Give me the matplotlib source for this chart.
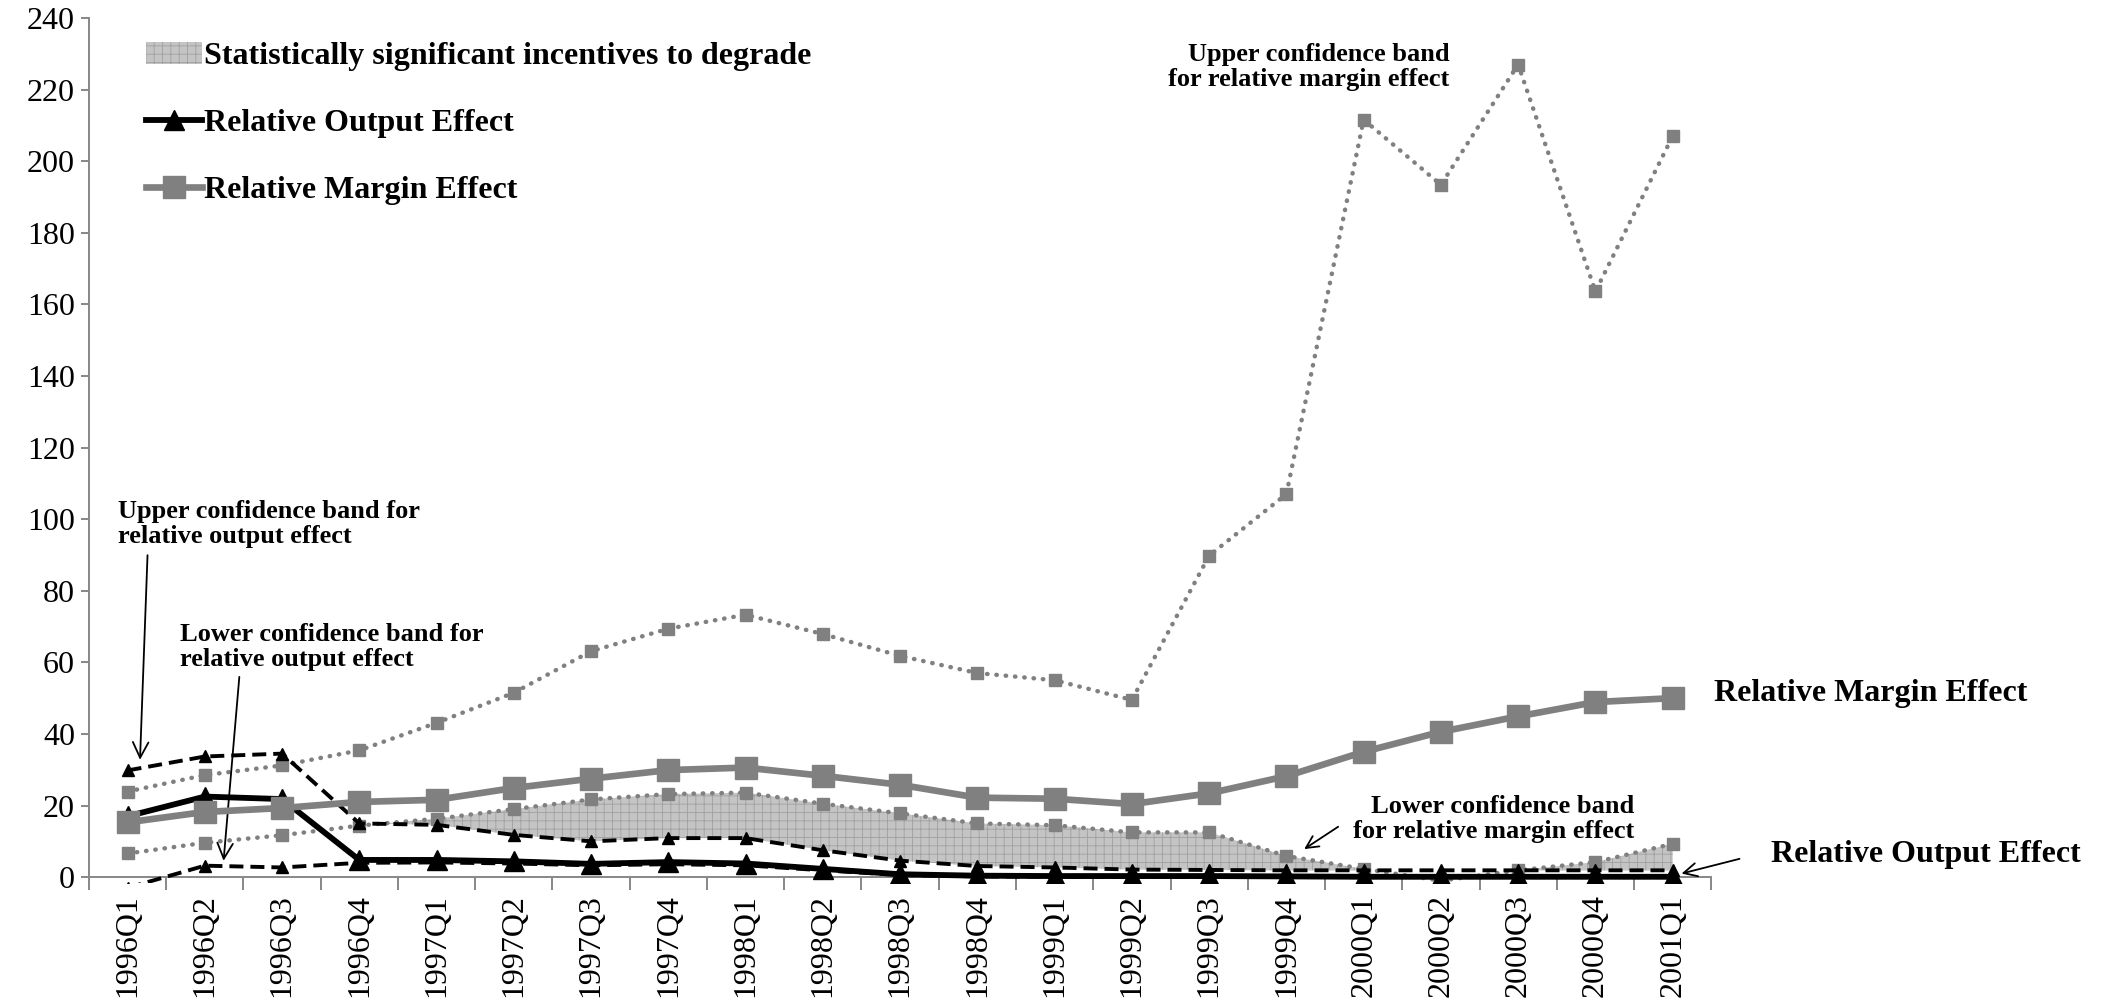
import matplotlib
matplotlib.use("Agg")
import matplotlib.pyplot as plt
from matplotlib.lines import Line2D
from matplotlib.patches import Patch
from matplotlib.transforms import Bbox, TransformedBbox
import numpy as np

quarters = ["1996Q1", "1996Q2", "1996Q3", "1996Q4", "1997Q1", "1997Q2", "1997Q3",
            "1997Q4", "1998Q1", "1998Q2", "1998Q3", "1998Q4", "1999Q1", "1999Q2",
            "1999Q3", "1999Q4", "2000Q1", "2000Q2", "2000Q3", "2000Q4", "2001Q1"]

margin_effect = [15.3, 18.2, 19.3, 21.0, 21.6, 24.9, 27.5, 29.9, 30.6, 28.3, 25.8,
                 22.2, 21.9, 20.4, 23.4, 28.2, 35.0, 40.6, 44.9, 48.9, 50.0]
margin_upper = [23.9, 28.5, 31.2, 35.4, 43.1, 51.5, 63.1, 69.4, 73.3, 67.9, 61.8,
                57.0, 55.0, 49.5, 89.8, 107.0, 211.6, 193.4, 227.0, 163.6, 207.0]
margin_lower = [6.6, 9.6, 11.7, 14.4, 16.3, 19.0, 21.7, 23.2, 23.6, 20.5, 17.8,
                15.0, 14.5, 12.5, 12.5, 5.9, 2.3, -1.0, 1.9, 4.2, 9.3]
output_effect = [17.0, 22.5, 21.8, 4.8, 4.8, 4.4, 3.7, 4.2, 3.8, 2.3, 0.8,
                 0.4, 0.3, 0.3, 0.3, 0.2, 0.1, 0.1, 0.1, 0.1, 0.1]
output_upper = [29.8, 33.7, 34.5, 15.0, 14.6, 11.8, 10.0, 10.9, 10.9, 7.5, 4.6,
                3.1, 2.7, 2.1, 2.0, 1.9, 1.9, 1.9, 1.9, 1.9, 1.9]
output_lower = [-3.0, 3.2, 2.7, 4.0, 4.1, 3.8, 3.3, 3.6, 3.3, 1.9, 0.6,
                0.2, 0.1, 0.1, 0.1, 0.1, 0.0, 0.0, 0.0, 0.0, 0.0]
y_ticks = list(range(0, 241, 20))

GRAY = "#808080"
AXGRAY = "#878787"
plt.rcParams["font.family"] = ["Liberation Serif", "DejaVu Serif"]
plt.rcParams["hatch.linewidth"] = 0.6
plt.rcParams["hatch.color"] = "#9a9a9a"

fig = plt.figure(figsize=(21.07, 9.99), dpi=100)
ax = fig.add_axes([0.0422, 0.122, 0.770, 0.860])
x = np.arange(len(quarters))

ml = np.array(margin_lower)
ou = np.array(output_upper)
ax.fill_between(x, ou, ml, where=ml > ou, interpolate=True,
                facecolor="#c4c4c4", edgecolor="#a0a0a0", hatch="++", linewidth=0, zorder=1)

lines = []
lines += ax.plot(x, margin_upper, color=GRAY, lw=3.2, linestyle=(0, (0.1, 2.0)),
                 dash_capstyle="round", marker="s", ms=8, mfc=GRAY, mec=GRAY, zorder=3)
lines += ax.plot(x, margin_lower, color=GRAY, lw=3.2, linestyle=(0, (0.1, 2.0)),
                 dash_capstyle="round", marker="s", ms=8, mfc=GRAY, mec=GRAY, zorder=3)
lines += ax.plot(x, output_upper, color="black", lw=2.8, linestyle=(0, (3.6, 1.8)),
                 marker="^", ms=9, mfc="black", mec="black", zorder=4)
lines += ax.plot(x, output_lower, color="black", lw=2.8, linestyle=(0, (3.6, 1.8)),
                 marker="^", ms=9, mfc="black", mec="black", zorder=4)
lines += ax.plot(x, output_effect, color="black", lw=4.2, marker="^", ms=15,
                 mfc="black", mec="black", zorder=5)
lines += ax.plot(x, margin_effect, color=GRAY, lw=4.8, marker="s", ms=16,
                 mfc=GRAY, mec=GRAY, zorder=6)

ax.set_xlim(-0.5, len(quarters) - 0.5)
ax.set_ylim(0, 240)
clipbox = TransformedBbox(Bbox([[-0.5, -1.6], [len(quarters) - 0.5, 245]]), ax.transData)
for ln in lines:
    ln.set_clip_box(clipbox)

for s in ["top", "right"]:
    ax.spines[s].set_visible(False)
for s in ["left", "bottom"]:
    ax.spines[s].set_color(AXGRAY)
    ax.spines[s].set_linewidth(1.4)

ax.set_yticks(y_ticks)
ax.set_yticklabels([str(v) for v in y_ticks], fontsize=23)
ax.tick_params(axis="y", length=6, width=1.4, color=AXGRAY, pad=4)
ax.set_xticks(x)
ax.set_xticklabels(quarters, rotation=90, fontsize=23)
ax.set_xticks(np.arange(-0.5, len(quarters), 1.0), minor=True)
ax.tick_params(axis="x", which="major", length=0, pad=12)
ax.tick_params(axis="x", which="minor", length=9, width=1.4, color=AXGRAY)

handles = [
    Patch(facecolor="#c4c4c4", edgecolor="#a0a0a0", hatch="++", linewidth=0),
    Line2D([], [], color="black", lw=4.2, marker="^", ms=15),
    Line2D([], [], color=GRAY, lw=4.8, marker="s", ms=16),
]
labels = ["Statistically significant incentives to degrade",
          "Relative Output Effect", "Relative Margin Effect"]
fig.legend(handles, labels, loc="upper left", bbox_to_anchor=(0.0555, 0.987),
           frameon=False, prop={"weight": "bold", "size": 23},
           handlelength=1.75, handletextpad=0.08, labelspacing=1.18)

bold = {"weight": "bold"}
ax.text(-0.12, 98.6, "Upper confidence band for\nrelative output effect",
        ha="left", va="center", fontsize=19, fontdict=bold, linespacing=1.1)
ax.annotate("", xy=(0.16, 32), xytext=(0.26, 90.7),
            arrowprops=dict(arrowstyle="->", color="black", lw=1.3, mutation_scale=28))
ax.text(0.68, 64.2, "Lower confidence band for\nrelative output effect",
        ha="left", va="center", fontsize=19, fontdict=bold, linespacing=1.1)
ax.annotate("", xy=(1.24, 3.8), xytext=(1.45, 56.7),
            arrowprops=dict(arrowstyle="->", color="black", lw=1.3, mutation_scale=28))
ax.text(17.11, 226.4, "Upper confidence band\nfor relative margin effect",
        ha="right", va="center", fontsize=19, fontdict=bold, linespacing=1.1,
        multialignment="right")
ax.text(19.5, 16.3, "Lower confidence band\nfor relative margin effect",
        ha="right", va="center", fontsize=19, fontdict=bold, linespacing=1.1,
        multialignment="right")
ax.annotate("", xy=(15.2, 7.4), xytext=(15.7, 14.5),
            arrowprops=dict(arrowstyle="->", color="black", lw=1.3, mutation_scale=22))
ax.text(20.54, 51.4, "Relative Margin Effect", ha="left", va="center",
        fontsize=23, fontdict=bold, clip_on=False)
ax.text(21.27, 6.4, "Relative Output Effect", ha="left", va="center",
        fontsize=23, fontdict=bold, clip_on=False)
ax.annotate("", xy=(20.08, 0.8), xytext=(20.9, 5.3), annotation_clip=False,
            arrowprops=dict(arrowstyle="->", color="black", lw=1.3, mutation_scale=24))

fig.savefig("out.png", dpi=100)
